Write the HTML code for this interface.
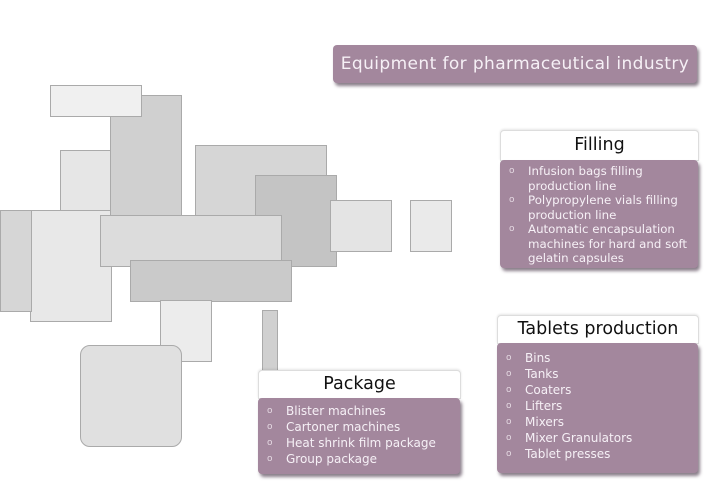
<!DOCTYPE html>
<html><head><meta charset="utf-8"><style>
body{margin:0;width:727px;height:503px;background:#fff;position:relative;overflow:hidden;font-family:"DejaVu Sans","Liberation Sans",sans-serif}
.a{position:absolute}
.p{background:#a3879d;border-radius:4px;box-shadow:2px 3px 3px rgba(60,40,60,.6);color:#f6f0f6}
.h{background:#fff;border:1px solid #ddd;border-radius:4px 4px 0 0;text-align:center;color:#111;font-size:17.5px;box-shadow:0 -1px 2px rgba(0,0,0,.1)}
ul{margin:0;padding:0;list-style:none;font-size:12px;line-height:16px}
li{position:relative;padding-left:28px}
li:before{content:"o";position:absolute;left:9px;font-size:9px;color:#e6dbe4}
.g{position:absolute;background:#d8d8d8;border:1px solid #aaa}
</style></head><body>
<div class="g" style="left:195px;top:145px;width:130px;height:110px;background:#d6d6d6"></div>
<div class="g" style="left:255px;top:175px;width:80px;height:90px;background:#c4c4c4"></div>
<div class="g" style="left:60px;top:150px;width:100px;height:60px;background:#e6e6e6"></div>
<div class="g" style="left:30px;top:210px;width:80px;height:110px;background:#e8e8e8"></div>
<div class="g" style="left:0px;top:210px;width:30px;height:100px;background:#d6d6d6"></div>
<div class="g" style="left:110px;top:95px;width:70px;height:120px;background:#d0d0d0"></div>
<div class="g" style="left:50px;top:85px;width:90px;height:30px;background:#f0f0f0"></div>
<div class="g" style="left:100px;top:215px;width:180px;height:50px;background:#dcdcdc"></div>
<div class="g" style="left:130px;top:260px;width:160px;height:40px;background:#cacaca"></div>
<div class="g" style="left:160px;top:300px;width:50px;height:60px;background:#ececec"></div>
<div class="g" style="left:80px;top:345px;width:100px;height:100px;background:#e0e0e0;border-radius:10px"></div>
<div class="g" style="left:330px;top:200px;width:60px;height:50px;background:#e4e4e4"></div>
<div class="g" style="left:410px;top:200px;width:40px;height:50px;background:#eaeaea"></div>
<div class="g" style="left:262px;top:310px;width:14px;height:60px;background:#d0d0d0"></div>

<div class="a p" style="left:333px;top:45px;width:364px;height:38px;font-size:17px;line-height:38px;text-align:center;letter-spacing:.4px">Equipment for pharmaceutical industry</div>

<div class="a h" style="left:500px;top:130px;width:197px;height:29px;line-height:29px">Filling</div>
<div class="a p" style="left:500px;top:160px;width:198px;height:108px"><ul style="padding-top:4px;line-height:14.5px;font-size:11.8px"><li>Infusion bags filling production line</li><li>Polypropylene vials filling production line</li><li>Automatic encapsulation machines for hard and soft gelatin capsules</li></ul></div>

<div class="a h" style="left:497px;top:315px;width:200px;height:27px;line-height:27px">Tablets production</div>
<div class="a p" style="left:497px;top:343px;width:201px;height:130px"><ul style="padding-top:7px"><li>Bins</li><li>Tanks</li><li>Coaters</li><li>Lifters</li><li>Mixers</li><li>Mixer Granulators</li><li>Tablet presses</li></ul></div>

<div class="a h" style="left:258px;top:370px;width:201px;height:27px;line-height:27px">Package</div>
<div class="a p" style="left:258px;top:398px;width:202px;height:76px"><ul style="padding-top:5px"><li>Blister machines</li><li>Cartoner machines</li><li>Heat shrink film package</li><li>Group package</li></ul></div>
</body></html>
